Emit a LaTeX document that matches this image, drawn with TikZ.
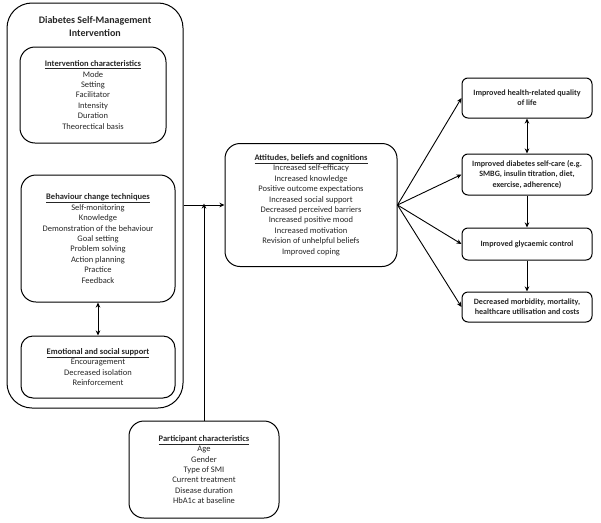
\documentclass[tikz,border=0pt]{standalone}
\usepackage{fontspec}
\setmainfont{Carlito}
\usetikzlibrary{arrows.meta}
\newcommand{\hd}[1]{\underline{\textbf{#1}}}
\begin{document}
\begin{tikzpicture}[x=1pt,y=-1pt,
  box/.style={draw=black, line width=1pt, align=center, inner sep=0pt, text=black!85,
    font=\fontsize{8.5}{10.45}\selectfont},
  rbox/.style={draw=black, line width=1pt, align=center, inner sep=0pt, rounded corners=6pt,
    minimum width=130pt, font=\fontsize{8.1}{10.2}\selectfont\bfseries, text=black!85},
  arr/.style={line width=0.9pt, -{Stealth[length=5pt,width=4.5pt,inset=1.5pt]}},
  darr/.style={line width=0.9pt, {Stealth[length=5pt,width=4.5pt,inset=1.5pt]}-{Stealth[length=5pt,width=4.5pt,inset=1.5pt]}}
]
\useasboundingbox (0,0) rectangle (601,522);

% outer box
\node[box, rounded corners=25pt, minimum width=176pt, minimum height=405pt] (outer) at (95,205.5) {};
\node[font=\fontsize{10}{13}\selectfont\bfseries, align=center, inner sep=0pt, text=black!85] (title) at (95,26.5) {Diabetes Self-Management\\Intervention};

\node[box, rounded corners=15pt, minimum width=146pt, minimum height=96pt] (ic) at (93,95)
 {\hd{Intervention characteristics}\\Mode\\Setting\\Facilitator\\Intensity\\Duration\\Theorectical basis};

\node[box, rounded corners=15pt, minimum width=154pt, minimum height=127pt] (bct) at (98,238.5)
 {\hd{Behaviour change techniques}\\Self-monitoring\\Knowledge\\Demonstration of the behaviour\\Goal setting\\Problem solving\\Action planning\\Practice\\Feedback};

\node[box, rounded corners=12pt, minimum width=154pt, minimum height=62pt] (ess) at (98,367)
 {\hd{Emotional and social support}\\Encouragement\\Decreased isolation\\Reinforcement};

% middle
\node[box, rounded corners=15pt, minimum width=172pt, minimum height=123pt] (abc) at (311,205)
 {\hd{Attitudes, beliefs and cognitions}\\Increased self-efficacy\\Increased knowledge\\Positive outcome expectations\\Increased social support\\Decreased perceived barriers\\Increased positive mood\\Increased motivation\\Revision of unhelpful beliefs\\Improved coping};

% participant
\node[box, rounded corners=15pt, minimum width=150pt, minimum height=97pt] (pc) at (204,469.5)
 {\hd{Participant characteristics}\\Age\\Gender\\Type of SMI\\Current treatment\\Disease duration\\HbA1c at baseline};

% right boxes
\node[rbox, minimum height=40pt] (r1) at (527,98) {Improved health-related quality\\of life};
\node[rbox, minimum height=41pt] (r2) at (527,174.5) {Improved diabetes self-care (e.g.\\SMBG, insulin titration, diet,\\exercise, adherence)};
\node[rbox, minimum height=32pt] (r3) at (527,244) {Improved glycaemic control};
\node[rbox, minimum height=30pt] (r4) at (527,307) {Decreased morbidity, mortality,\\healthcare utilisation and costs};

% connectors
\coordinate (join) at (outer.east |- abc.west);
\draw[arr] (join) -- (abc.west);
\draw[arr] (pc.north) -- ([yshift=1.5pt]pc.north |- abc.west);
\draw[darr] (bct.south) -- (ess.north);
\draw[arr] (abc.east) -- (r1.west);
\draw[arr] (abc.east) -- (r2.west);
\draw[arr] (abc.east) -- (r3.west);
\draw[arr] (abc.east) -- (r4.west);
\draw[darr] (r1.south) -- (r2.north);
\draw[arr] (r2.south) -- (r3.north);
\draw[arr] (r3.south) -- (r4.north);
\end{tikzpicture}
\end{document}
